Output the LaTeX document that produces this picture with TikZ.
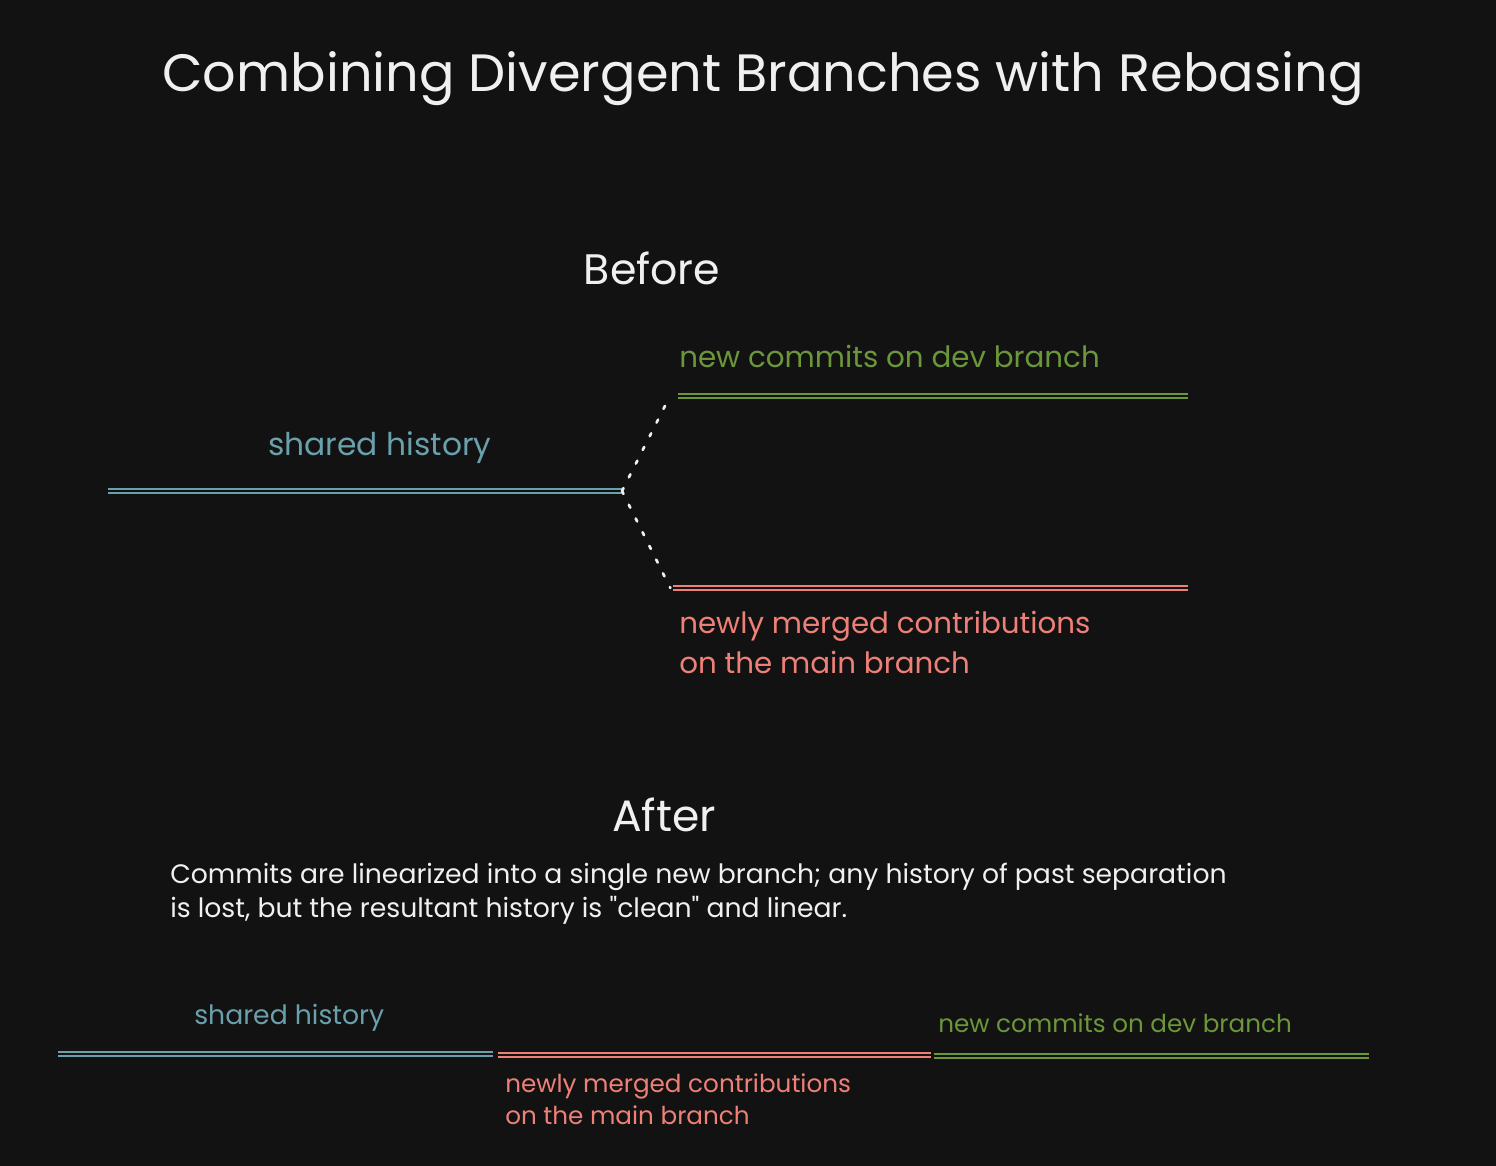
\documentclass[tikz,border=0pt]{standalone}
\usepackage{fontspec}
\setmainfont{Poppins}
\usetikzlibrary{positioning}
\usepackage{xcolor}
\definecolor{bgdark}{RGB}{18,18,18}
\definecolor{histblue}{RGB}{106,160,172}
\definecolor{devgreen}{RGB}{108,150,58}
\definecolor{mainred}{RGB}{238,128,120}
\definecolor{inkwhite}{RGB}{240,240,240}
\tikzset{
  branch/.style={line width=1.5pt, double=bgdark, double distance=1.2pt},
  forkdots/.style={inkwhite, line width=2pt, line cap=round, dash pattern=on 2.5pt off 9pt},
  txt/.style={inner sep=0pt, anchor=base west, align=left}
}

\begin{document}
\begin{tikzpicture}[x=0.75pt,y=0.75pt,yscale=-1,xscale=1]
%background, also fixes the size
\fill [bgdark] (0,0) rectangle (1496,1166);

% Title
\node (title) at (763,92) [inner sep=0pt, anchor=base, text=inkwhite, font=\fontsize{39.4}{46}\selectfont] {Combining Divergent Branches with Rebasing};

%%% Before %%%
\node (before) at (652,285) [inner sep=0pt, anchor=base, text=inkwhite, font=\fontsize{32}{38}\selectfont] {Before};

%Straight Lines
\coordinate (shareA) at (108,491);
\coordinate (shareB) at (622,491);
\coordinate (devA) at (678,396);
\coordinate (devB) at (1188,396);
\coordinate (mainA) at (673,588);
\coordinate (mainB) at (1188,588);
\draw [branch, histblue] (shareA) -- (shareB);
\draw [branch, devgreen] (devA) -- (devB);
\draw [branch, mainred] (mainA) -- (mainB);
%fork
\draw [forkdots] (shareB) -- ([xshift=-6]devA);
\draw [forkdots] (shareB) -- ([xshift=-2]mainA);

% Text Node
\node (sharedBefore) at (268,455) [txt, text=histblue, font=\fontsize{23.5}{30}\selectfont] {shared history};
% Text Node
\node (devBefore) at (679,368) [txt, text=devgreen, font=\fontsize{22}{30}\selectfont] {new commits on dev branch};
% Text Node (base = last line)
\node (mainBefore) at (679,673) [txt, text=mainred, font=\fontsize{22}{30}\selectfont] {newly merged contributions\\on the main branch};

%%% After %%%
\node (after) at (664,831) [inner sep=0pt, anchor=base, text=inkwhite, font=\fontsize{33}{38}\selectfont] {After};
% Text Node
\node (note) at (170,917) [txt, text=inkwhite, font=\fontsize{20}{25.5}\selectfont] {Commits are linearized into a single new branch; any history of past separation\\is lost, but the resultant history is \textquotedbl clean\textquotedbl{} and linear.};

%Straight Lines
\coordinate (histA) at (58,1054);
\coordinate (histB) at (493,1054);
\coordinate (mergedA) at (498,1055);
\coordinate (mergedB) at (931,1055);
\coordinate (newA) at (934,1056);
\coordinate (newB) at (1369,1056);
\draw [branch, histblue] (histA) -- (histB);
\draw [branch, mainred] (mergedA) -- (mergedB);
\draw [branch, devgreen] (newA) -- (newB);

% Text Node
\node (sharedAfter) at (194,1024) [txt, text=histblue, font=\fontsize{20}{24}\selectfont] {shared history};
% Text Node
\node (mergedAfter) at (505,1124) [txt, text=mainred, font=\fontsize{18.5}{24}\selectfont] {newly merged contributions\\on the main branch};
% Text Node
\node (devAfter) at (938,1032) [txt, text=devgreen, font=\fontsize{18.5}{24}\selectfont] {new commits on dev branch};

\end{tikzpicture}
\end{document}
